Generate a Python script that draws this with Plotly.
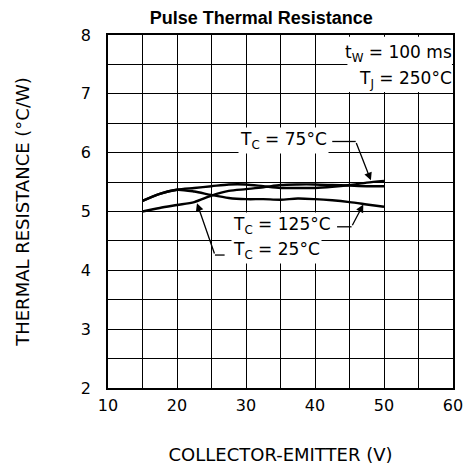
import plotly.graph_objects as go

# Collector-emitter voltage (V) sample points for each case temperature curve
vce_25 = [15, 17.5, 20, 22.5, 25, 27.5, 30, 32.5, 35, 37.5, 40, 42.5, 45, 47.5, 50]
rth_25 = [5.00, 5.06, 5.11, 5.16, 5.27, 5.35, 5.38, 5.41, 5.45, 5.46, 5.46, 5.45, 5.44, 5.43, 5.43]

vce_75 = [15, 17.5, 20, 22.5, 25, 27.5, 30, 32.5, 35, 37.5, 40, 42.5, 45, 47.5, 50]
rth_75 = [5.18, 5.30, 5.37, 5.40, 5.43, 5.46, 5.46, 5.43, 5.40, 5.40, 5.40, 5.42, 5.45, 5.49, 5.52]

vce_125 = [15, 17.5, 20, 22.5, 25, 27.5, 30, 32.5, 35, 37.5, 40, 42.5, 45, 47.5, 50]
rth_125 = [5.18, 5.30, 5.37, 5.34, 5.28, 5.23, 5.21, 5.21, 5.20, 5.22, 5.21, 5.19, 5.16, 5.12, 5.08]

x_ticks = [10, 20, 30, 40, 50, 60]
y_ticks = [2, 3, 4, 5, 6, 7, 8]

FONT = "DejaVu Sans, Verdana, sans-serif"

fig = go.Figure()
for xs, ys, name in [(vce_25, rth_25, "25"), (vce_75, rth_75, "75"), (vce_125, rth_125, "125")]:
    fig.add_trace(go.Scatter(
        x=xs, y=ys, mode="lines", name=f"TC = {name}°C",
        line=dict(color="black", width=2.4, shape="spline", smoothing=0.8),
        showlegend=False, hoverinfo="skip",
    ))

# white panel behind the test-condition note, hiding the grid there
fig.add_shape(type="rect", xref="x", yref="y", x0=44.7, x1=59.85, y0=7.03, y1=7.97,
              fillcolor="white", line=dict(width=0), layer="above")
note_font = dict(family=FONT, size=17, color="black")
fig.add_annotation(xref="x", yref="y", x=59.4, y=7.68, xanchor="right", yanchor="middle",
                   xshift=5, text="t<sub>W</sub> = 100 ms", showarrow=False, font=note_font)
fig.add_annotation(xref="x", yref="y", x=59.4, y=7.24, xanchor="right", yanchor="middle",
                   xshift=5, text="T<sub>J</sub> = 250°C", showarrow=False, font=note_font)

# curve labels with leader lines and arrows
label_font = dict(family=FONT, size=17, color="black")
lead = dict(color="black", width=1.3)
arrow = dict(text="", showarrow=True, axref="x", ayref="y", xref="x", yref="y",
             arrowhead=2, arrowsize=1.2, arrowwidth=1.3, arrowcolor="black")

fig.add_annotation(xref="x", yref="y", x=35.4, y=6.21, xanchor="center", yanchor="middle",
                   text="T<sub>C</sub> = 75°C", showarrow=False, bgcolor="white", font=label_font)
fig.add_shape(type="line", xref="x", yref="y", x0=42.5, x1=45.9, y0=6.19, y1=6.19,
              line=lead, layer="above")
fig.add_annotation(x=48.1, y=5.53, ax=45.9, ay=6.19, **arrow)

fig.add_annotation(xref="x", yref="y", x=35.2, y=4.77, xanchor="center", yanchor="middle",
                   text="T<sub>C</sub> = 125°C", showarrow=False, bgcolor="white", font=label_font)
fig.add_shape(type="line", xref="x", yref="y", x0=43.2, x1=45.3, y0=4.74, y1=4.74,
              line=lead, layer="above")
fig.add_annotation(x=47.0, y=5.12, ax=45.3, ay=4.74, **arrow)

fig.add_annotation(xref="x", yref="y", x=34.4, y=4.33, xanchor="center", yanchor="middle",
                   text="T<sub>C</sub> = 25°C", showarrow=False, bgcolor="white", font=label_font)
fig.add_shape(type="line", xref="x", yref="y", x0=25.5, x1=26.9, y0=4.26, y1=4.26,
              line=lead, layer="above")
fig.add_annotation(x=22.9, y=5.14, ax=25.5, ay=4.26, **arrow)

axis_common = dict(
    showgrid=True, gridcolor="black", gridwidth=1,
    showline=True, linecolor="black", linewidth=1.5, mirror=True,
    ticks="", zeroline=False,
    tickfont=dict(family=FONT, size=16, color="black"),
)
fig.update_xaxes(range=[10, 60], tickvals=x_ticks, ticklabelstandoff=2,
                 minor=dict(dtick=5, showgrid=True, gridcolor="black", gridwidth=1),
                 title=dict(text="COLLECTOR-EMITTER (V)", standoff=34,
                            font=dict(family=FONT, size=18, color="black")),
                 **axis_common)
fig.update_yaxes(range=[2, 8], tickvals=y_ticks, ticklabelstandoff=12,
                 minor=dict(dtick=0.5, showgrid=True, gridcolor="black", gridwidth=1),
                 title=dict(text="THERMAL RESISTANCE (°C/W)", standoff=47,
                            font=dict(family=FONT, size=18, color="black")),
                 **axis_common)

fig.update_layout(
    width=475, height=474,
    margin=dict(l=108, r=13, t=35, b=86),
    paper_bgcolor="white", plot_bgcolor="white",
    title=dict(text="<b>Pulse Thermal Resistance</b>", x=0.55, xanchor="center",
               y=0.962, yanchor="middle",
               font=dict(family="Liberation Sans, Arial, sans-serif", size=18, color="black")),
)

fig.write_html("out.html")
